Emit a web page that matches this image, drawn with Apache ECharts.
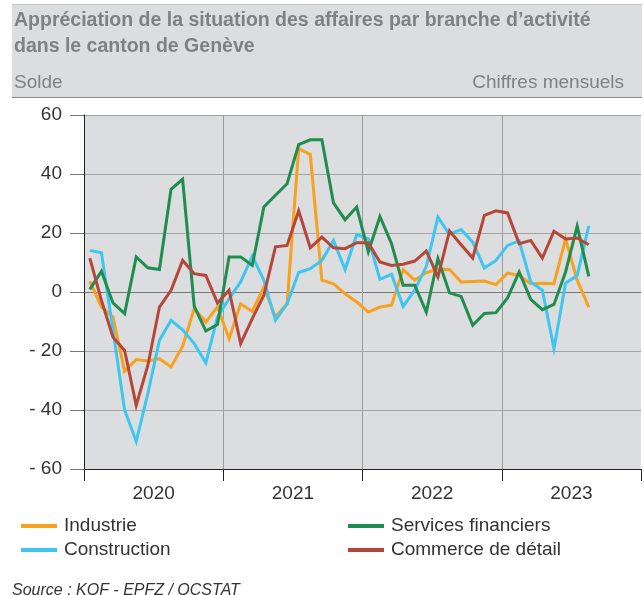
<!DOCTYPE html>
<html>
<head>
<meta charset="utf-8">
<script src="https://cdn.jsdelivr.net/npm/echarts@6/dist/echarts.min.js"></script>
<style>
html,body{margin:0;padding:0;background:#fff;}
#c{width:644px;height:595px;}
</style>
</head>
<body>
<div id="c"></div>
<script>
var years = ['2020', '2021', '2022', '2023'];
var monthNames = ['01','02','03','04','05','06','07','08','09','10','11','12'];
var yTicks = [-60, -40, -20, 0, 20, 40, 60];

var industrie = [3.6, -5, -8.5, -26.9, -22.9, -23.4, -22.6, -25.4, -18.4, -5.6, -10.2, -5,
  -15.8, -4, -6.6, 1.7, -8.5, -4, 48.6, 46.6, 4, 2.8, -0.6, -3.4,
  -6.8, -5.1, -4.5, 7.6, 4, 6.6, 7.7, 7.6, 3.4, 3.6, 3.7, 2.5,
  6.4, 5.6, 2.8, 3, 2.8, 18, 4, -5.1];
var construction = [14.1, 13.3, -13, -40, -50.6, -34.5, -16.4, -9.6, -12.8, -17.5, -24, -8.5,
  -2.3, 3.4, 12.2, 4, -9.6, -4, 6.6, 7.9, 10.7, 17.5, 7.6, 19.5,
  18, 4.3, 6, -4.9, 0.6, 8.7, 25.4, 19.5, 21.2, 16.9, 8.1, 10.7,
  15.8, 17.3, 3.4, 0.6, -19.2, 3, 5.6, 22.4];
var servicesFinanciers = [0.9, 7, -3.7, -7.3, 11.9, 8.2, 7.6, 34.8, 38.2, -4.9, -13.2, -11,
  11.9, 11.9, 9, 28.8, 32.8, 36.7, 50, 51.6, 51.6, 30.2, 24.5, 28.8,
  13.6, 25.6, 16.4, 2.3, 2.3, -6.8, 11.3, -0.3, -1.5, -11.3, -7.3, -7,
  -2, 6.8, -2.5, -6, -4.2, 6.8, 22.3, 5.3];
var commerceDetail = [11.5, -2.8, -15.3, -19.8, -38.4, -24.9, -5.1, 0.6, 10.7, 6.2, 5.6, -3.7,
  0.6, -17.5, -9, -1.1, 15.3, 15.8, 27.5, 15, 18.6, 15, 14.7, 16.7,
  16.7, 10.2, 9, 9.4, 10.5, 13.9, 5.1, 20.7, 16, 11.5, 26, 27.5,
  26.8, 16.4, 17.5, 11.5, 20.6, 18, 18.3, 16];

var seriesNames = ['Industrie', 'Construction', 'Services financiers', 'Commerce de détail'];
var seriesColors = ['#f7a11e', '#3ec6f1', '#1f8d4f', '#b5473a'];
var seriesData = [industrie, construction, servicesFinanciers, commerceDetail];

var months = [];
years.forEach(function (y) { monthNames.forEach(function (m) { months.push(y + '-' + m); }); });

var FONT = '"Liberation Sans", Arial, sans-serif';
var chart = echarts.init(document.getElementById('c'), null, {renderer: 'canvas'});

var series = seriesNames.map(function (n, i) {
  return {
    name: n, type: 'line', xAxisIndex: 0, yAxisIndex: 0,
    data: seriesData[i], showSymbol: false, symbol: 'none',
    lineStyle: {color: seriesColors[i], width: 3, join: 'miter'},
    itemStyle: {color: seriesColors[i]},
    emphasis: {disabled: true},
    z: 3 + i
  };
});

var legendText = {fontSize: 19, color: '#333', fontFamily: FONT, lineHeight: 20, padding: [0, 0, 0, 2]};

chart.setOption({
  animation: false,
  backgroundColor: '#ffffff',
  textStyle: {fontFamily: FONT},
  grid: {left: 84, right: 3, top: 115, bottom: 126, show: true, backgroundColor: '#dcdddf', borderWidth: 0, containLabel: false},
  xAxis: [{
    type: 'category', data: months, boundaryGap: true, show: false
  }, {
    type: 'category', data: years, boundaryGap: true, position: 'bottom',
    axisLine: {show: true, onZero: false, lineStyle: {color: '#222', width: 1}},
    axisTick: {show: true, length: 12, lineStyle: {color: '#222', width: 1}},
    axisLabel: {show: true, color: '#333', fontSize: 19, margin: 15, fontFamily: FONT},
    splitLine: {show: true, lineStyle: {color: ['rgba(0,0,0,0)', '#9b9b9b', '#9b9b9b', '#9b9b9b', 'rgba(0,0,0,0)'], width: 1}}
  }],
  yAxis: {
    type: 'value', min: yTicks[0], max: yTicks[yTicks.length - 1], interval: 20,
    axisLine: {show: true, onZero: false, lineStyle: {color: '#222', width: 1}},
    axisTick: {show: true, length: 14, lineStyle: {color: '#777', width: 1}},
    axisLabel: {color: '#333', fontSize: 19, margin: 22, fontFamily: FONT,
      formatter: function (v) { return v < 0 ? '- ' + Math.abs(v) : String(v); }},
    splitLine: {show: true, lineStyle: {color: ['#222', '#a3a3a3', '#a3a3a3', '#777777', '#a3a3a3', '#a3a3a3', '#a3a3a3'], width: 1}}
  },
  legend: [{
    data: [seriesNames[0], seriesNames[1]], orient: 'vertical', left: 16, top: 511,
    icon: 'rect', itemWidth: 36, itemHeight: 4, itemGap: 4,
    textStyle: legendText, selectedMode: false
  }, {
    data: [seriesNames[2], seriesNames[3]], orient: 'vertical', left: 343, top: 511,
    icon: 'rect', itemWidth: 36, itemHeight: 4, itemGap: 4,
    textStyle: legendText, selectedMode: false
  }],
  graphic: [
    {type: 'rect', shape: {x: 12, y: 4, width: 630, height: 93}, style: {fill: '#dcdddf'}, z: 0},
    {type: 'line', shape: {x1: 12, y1: 4.5, x2: 642, y2: 4.5}, style: {stroke: '#c4c4c4', lineWidth: 1}, z: 1},
    {type: 'line', shape: {x1: 12, y1: 97.5, x2: 642, y2: 97.5}, style: {stroke: '#8c8c8c', lineWidth: 1}, z: 1},
    {type: 'text', left: 14, top: 11, z: 2, style: {text: 'Appréciation de la situation des affaires par branche d’activité', fill: '#808080', font: 'bold 19.5px ' + FONT}},
    {type: 'text', left: 14, top: 37, z: 2, style: {text: 'dans le canton de Genève', fill: '#808080', font: 'bold 19.5px ' + FONT}},
    {type: 'text', left: 14, top: 73, z: 2, style: {text: 'Solde', fill: '#808080', font: '19px ' + FONT}},
    {type: 'text', right: 20, top: 73, z: 2, style: {text: 'Chiffres mensuels', fill: '#808080', font: '19px ' + FONT}},
    {type: 'text', left: 12, top: 583, z: 2, style: {text: 'Source : KOF - EPFZ / OCSTAT', fill: '#333', font: 'italic 16px ' + FONT}}
  ],
  series: series
});
</script>
</body>
</html>
